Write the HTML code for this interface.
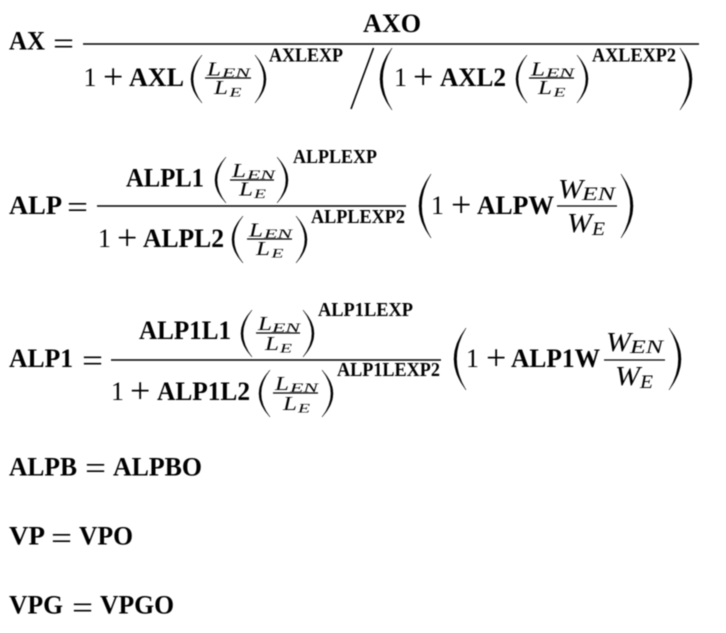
<!DOCTYPE html>
<html><head><meta charset="utf-8"><style>
html,body{margin:0;padding:0;background:#fff;width:726px;height:633px;overflow:hidden}
svg{display:block;filter:blur(.4px)}
text{font-family:"Liberation Serif",serif;fill:#000}
.b{font-weight:700;font-size:26px}
.e{font-weight:700;font-size:20px}
.n{font-size:26px}
.q{font-size:32px}
.m{font-size:36px}
.i{font-style:italic;font-size:20px}
.s{font-style:italic;font-size:13px}
.I{font-style:italic;font-size:27px}
.S{font-style:italic;font-size:19px}
.l{stroke:#000;stroke-width:1.6;fill:none}
.t{stroke:#000;stroke-width:1.2;fill:none}
.p{stroke:#000;stroke-width:.5;fill:#000}
</style></head><body>
<svg width="726" height="633" viewBox="0 0 726 633" xmlns="http://www.w3.org/2000/svg">
<!-- Eq 1 -->
<text class="b" x="9" y="49.5" textLength="36" lengthAdjust="spacingAndGlyphs">AX</text>
<text class="q" x="53" y="54" textLength="21" lengthAdjust="spacingAndGlyphs">=</text>
<line class="l" x1="83" y1="44" x2="699" y2="44"/>
<text class="b" x="363" y="32" textLength="58" lengthAdjust="spacingAndGlyphs">AXO</text>
<text class="n" x="83.5" y="86">1</text>
<text class="m" x="103" y="88.5">+</text>
<text class="b" x="129" y="86" textLength="55" lengthAdjust="spacingAndGlyphs">AXL</text>
<path class="p" d="M202 55Q180 79 202 103Q184 79 202 55Z"/>
<text class="i" x="207" y="75.5" textLength="14" lengthAdjust="spacingAndGlyphs">L</text>
<text class="s" x="222" y="77" textLength="28" lengthAdjust="spacingAndGlyphs">EN</text>
<line class="t" x1="205" y1="78" x2="251" y2="78"/>
<text class="i" x="214" y="94" textLength="14" lengthAdjust="spacingAndGlyphs">L</text>
<text class="s" x="229.5" y="96.5" textLength="12" lengthAdjust="spacingAndGlyphs">E</text>
<path class="p" d="M255 55Q277 79 255 103Q273 79 255 55Z"/>
<text class="e" x="269" y="61.5" textLength="74" lengthAdjust="spacingAndGlyphs">AXLEXP</text>
<line class="l" x1="351" y1="109" x2="373.5" y2="48"/>
<path class="p" d="M392 48Q368 79 392 110Q373 79 392 48Z"/>
<text class="n" x="394" y="86">1</text>
<text class="m" x="413" y="88.5">+</text>
<text class="b" x="440" y="86" textLength="66" lengthAdjust="spacingAndGlyphs">AXL2</text>
<path class="p" d="M527 55Q505 79 527 103Q509 79 527 55Z"/>
<text class="i" x="531" y="75.5" textLength="14" lengthAdjust="spacingAndGlyphs">L</text>
<text class="s" x="546" y="77" textLength="28" lengthAdjust="spacingAndGlyphs">EN</text>
<line class="t" x1="529" y1="78" x2="574" y2="78"/>
<text class="i" x="538" y="94" textLength="14" lengthAdjust="spacingAndGlyphs">L</text>
<text class="s" x="553.5" y="96.5" textLength="12" lengthAdjust="spacingAndGlyphs">E</text>
<path class="p" d="M577 55Q599 79 577 103Q595 79 577 55Z"/>
<text class="e" x="592" y="61.5" textLength="84" lengthAdjust="spacingAndGlyphs">AXLEXP2</text>
<path class="p" d="M680 48Q704 79 680 110Q699 79 680 48Z"/>
<!-- Eq 2 -->
<text class="b" x="9" y="214" textLength="53" lengthAdjust="spacingAndGlyphs">ALP</text>
<text class="q" x="67" y="217.5" textLength="21" lengthAdjust="spacingAndGlyphs">=</text>
<line class="l" x1="97" y1="206" x2="406" y2="206"/>
<text class="b" x="126" y="186.5" textLength="78" lengthAdjust="spacingAndGlyphs">ALPL1</text>
<path class="p" d="M226 157Q204 180 226 203Q208 180 226 157Z"/>
<text class="i" x="232" y="177" textLength="14" lengthAdjust="spacingAndGlyphs">L</text>
<text class="s" x="247" y="179" textLength="28" lengthAdjust="spacingAndGlyphs">EN</text>
<line class="t" x1="230" y1="180" x2="274" y2="180"/>
<text class="i" x="239" y="195.5" textLength="14" lengthAdjust="spacingAndGlyphs">L</text>
<text class="s" x="254" y="198" textLength="12" lengthAdjust="spacingAndGlyphs">E</text>
<path class="p" d="M277 157Q299 180 277 203Q295 180 277 157Z"/>
<text class="e" x="293" y="163" textLength="84" lengthAdjust="spacingAndGlyphs">ALPLEXP</text>
<text class="n" x="98" y="247">1</text>
<text class="m" x="117" y="249.5">+</text>
<text class="b" x="143" y="247" textLength="81" lengthAdjust="spacingAndGlyphs">ALPL2</text>
<path class="p" d="M243 216Q221 239.5 243 263Q225 239.5 243 216Z"/>
<text class="i" x="249" y="236.5" textLength="14" lengthAdjust="spacingAndGlyphs">L</text>
<text class="s" x="264" y="238" textLength="28" lengthAdjust="spacingAndGlyphs">EN</text>
<line class="t" x1="247" y1="239" x2="292" y2="239"/>
<text class="i" x="256" y="255" textLength="14" lengthAdjust="spacingAndGlyphs">L</text>
<text class="s" x="271.5" y="257.5" textLength="12" lengthAdjust="spacingAndGlyphs">E</text>
<path class="p" d="M296 216Q318 239.5 296 263Q314 239.5 296 216Z"/>
<text class="e" x="311" y="223" textLength="94" lengthAdjust="spacingAndGlyphs">ALPLEXP2</text>
<path class="p" d="M431 174Q407 206 431 238Q412 206 431 174Z"/>
<text class="n" x="431" y="214">1</text>
<text class="m" x="451" y="216.5">+</text>
<text class="b" x="477" y="214" textLength="77" lengthAdjust="spacingAndGlyphs">ALPW</text>
<text class="I" x="558" y="198" textLength="25" lengthAdjust="spacingAndGlyphs">W</text>
<text class="S" x="582" y="200" textLength="33" lengthAdjust="spacingAndGlyphs">EN</text>
<line class="t" x1="557" y1="206" x2="617" y2="206"/>
<text class="I" x="567" y="232" textLength="25" lengthAdjust="spacingAndGlyphs">W</text>
<text class="S" x="592" y="235" textLength="13" lengthAdjust="spacingAndGlyphs">E</text>
<path class="p" d="M621 174Q645 206 621 238Q640 206 621 174Z"/>
<!-- Eq 3 -->
<text class="b" x="9" y="367" textLength="64" lengthAdjust="spacingAndGlyphs">ALP1</text>
<text class="q" x="82" y="371" textLength="21" lengthAdjust="spacingAndGlyphs">=</text>
<line class="l" x1="111" y1="360" x2="441" y2="360"/>
<text class="b" x="139" y="339" textLength="92" lengthAdjust="spacingAndGlyphs">ALP1L1</text>
<path class="p" d="M252 310Q230 333.5 252 357Q234 333.5 252 310Z"/>
<text class="i" x="258" y="330" textLength="14" lengthAdjust="spacingAndGlyphs">L</text>
<text class="s" x="272" y="332" textLength="28" lengthAdjust="spacingAndGlyphs">EN</text>
<line class="t" x1="256" y1="333" x2="300" y2="333"/>
<text class="i" x="265" y="350" textLength="14" lengthAdjust="spacingAndGlyphs">L</text>
<text class="s" x="280" y="352.5" textLength="12" lengthAdjust="spacingAndGlyphs">E</text>
<path class="p" d="M303 310Q325 333.5 303 357Q321 333.5 303 310Z"/>
<text class="e" x="318" y="316" textLength="95" lengthAdjust="spacingAndGlyphs">ALP1LEXP</text>
<text class="n" x="111" y="400">1</text>
<text class="m" x="130" y="402.5">+</text>
<text class="b" x="157" y="400" textLength="93" lengthAdjust="spacingAndGlyphs">ALP1L2</text>
<path class="p" d="M270 370Q248 393.5 270 417Q252 393.5 270 370Z"/>
<text class="i" x="275" y="390" textLength="14" lengthAdjust="spacingAndGlyphs">L</text>
<text class="s" x="290" y="392" textLength="28" lengthAdjust="spacingAndGlyphs">EN</text>
<line class="t" x1="273" y1="393" x2="318" y2="393"/>
<text class="i" x="283" y="410" textLength="14" lengthAdjust="spacingAndGlyphs">L</text>
<text class="s" x="298" y="412.5" textLength="12" lengthAdjust="spacingAndGlyphs">E</text>
<path class="p" d="M322 370Q344 393.5 322 417Q340 393.5 322 370Z"/>
<text class="e" x="337" y="376" textLength="103" lengthAdjust="spacingAndGlyphs">ALP1LEXP2</text>
<path class="p" d="M466 328Q442 359 466 390Q447 359 466 328Z"/>
<text class="n" x="466" y="367">1</text>
<text class="m" x="486" y="369.5">+</text>
<text class="b" x="511" y="367" textLength="89" lengthAdjust="spacingAndGlyphs">ALP1W</text>
<text class="I" x="606" y="351" textLength="25" lengthAdjust="spacingAndGlyphs">W</text>
<text class="S" x="630" y="353" textLength="33" lengthAdjust="spacingAndGlyphs">EN</text>
<line class="t" x1="604" y1="360" x2="665" y2="360"/>
<text class="I" x="615" y="385" textLength="25" lengthAdjust="spacingAndGlyphs">W</text>
<text class="S" x="640" y="388" textLength="13" lengthAdjust="spacingAndGlyphs">E</text>
<path class="p" d="M669 328Q693 359 669 390Q688 359 669 328Z"/>
<!-- Simple -->
<text class="b" x="9" y="475.5" textLength="68" lengthAdjust="spacingAndGlyphs">ALPB</text>
<text class="q" x="85" y="478.5" textLength="21" lengthAdjust="spacingAndGlyphs">=</text>
<text class="b" x="113" y="475.5" textLength="89" lengthAdjust="spacingAndGlyphs">ALPBO</text>
<text class="b" x="9" y="544.5" textLength="36" lengthAdjust="spacingAndGlyphs">VP</text>
<text class="q" x="51" y="548.5" textLength="21" lengthAdjust="spacingAndGlyphs">=</text>
<text class="b" x="79" y="544.5" textLength="54" lengthAdjust="spacingAndGlyphs">VPO</text>
<text class="b" x="9" y="613.5" textLength="54" lengthAdjust="spacingAndGlyphs">VPG</text>
<text class="q" x="72" y="618" textLength="21" lengthAdjust="spacingAndGlyphs">=</text>
<text class="b" x="100" y="613.5" textLength="74" lengthAdjust="spacingAndGlyphs">VPGO</text>
</svg>
</body></html>
